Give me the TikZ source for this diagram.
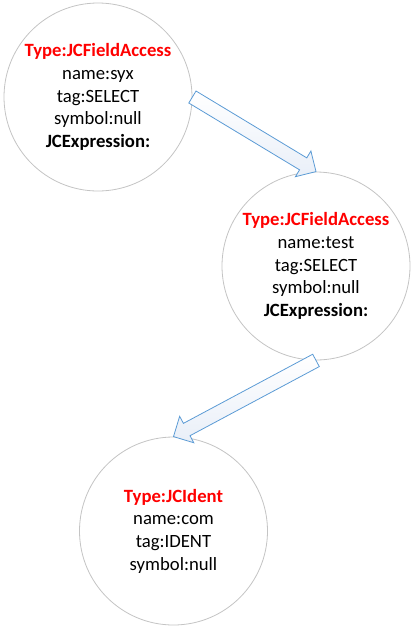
\documentclass[tikz,border=0pt]{standalone}
\usepackage{fontspec}
\setmainfont{Carlito}
\usepackage{tikz}
\usetikzlibrary{calc,positioning}
\definecolor{ringgray}{RGB}{196,196,196}
\definecolor{arrowblue}{RGB}{91,155,213}
\definecolor{arrowfill}{RGB}{233,239,248}
\newcommand{\nodetype}[1]{\textcolor{red}{\textbf{#1}}}

\begin{document}
\begin{tikzpicture}[on grid,line width=0.8pt,
  blockarrow/.style={draw=arrowblue,top color=white,bottom color=arrowfill,
    to path={($(\tikztostart)!7pt!90:(\tikztotarget)$)
      -- ($(\tikztotarget)!16.55pt!-25:(\tikztostart)$)
      -- ($(\tikztotarget)!21.21pt!-45:(\tikztostart)$)
      -- (\tikztotarget)
      -- ($(\tikztotarget)!21.21pt!45:(\tikztostart)$)
      -- ($(\tikztotarget)!16.55pt!25:(\tikztostart)$)
      -- ($(\tikztostart)!7pt!-90:(\tikztotarget)$) -- cycle}}]
 \tikzstyle{treenode}=[circle,draw=ringgray,fill=white,minimum size=188pt,inner sep=0pt,
   align=center,font=\fontsize{18.7}{22.7}\selectfont]

   \useasboundingbox (0,0) rectangle (415pt,-633pt);

   \node[treenode] (syx) at (98pt,-97pt)
     {\nodetype{Type:JCFieldAccess}\\name:syx\\tag:SELECT\\symbol:null\\\textbf{JCExpression:}};
   \node[treenode] (test) [below right=169pt and 218pt of syx]
     {\nodetype{Type:JCFieldAccess}\\name:test\\tag:SELECT\\symbol:null\\\textbf{JCExpression:}};
   \node[treenode] (com) [below left=265pt and 142.5pt of test]
     {\nodetype{Type:JCIdent}\\name:com\\tag:IDENT\\symbol:null};

   \path
   (syx.east) edge[blockarrow] (test.north)
   (test.south) edge[blockarrow] (com.north);

\end{tikzpicture}
\end{document}
